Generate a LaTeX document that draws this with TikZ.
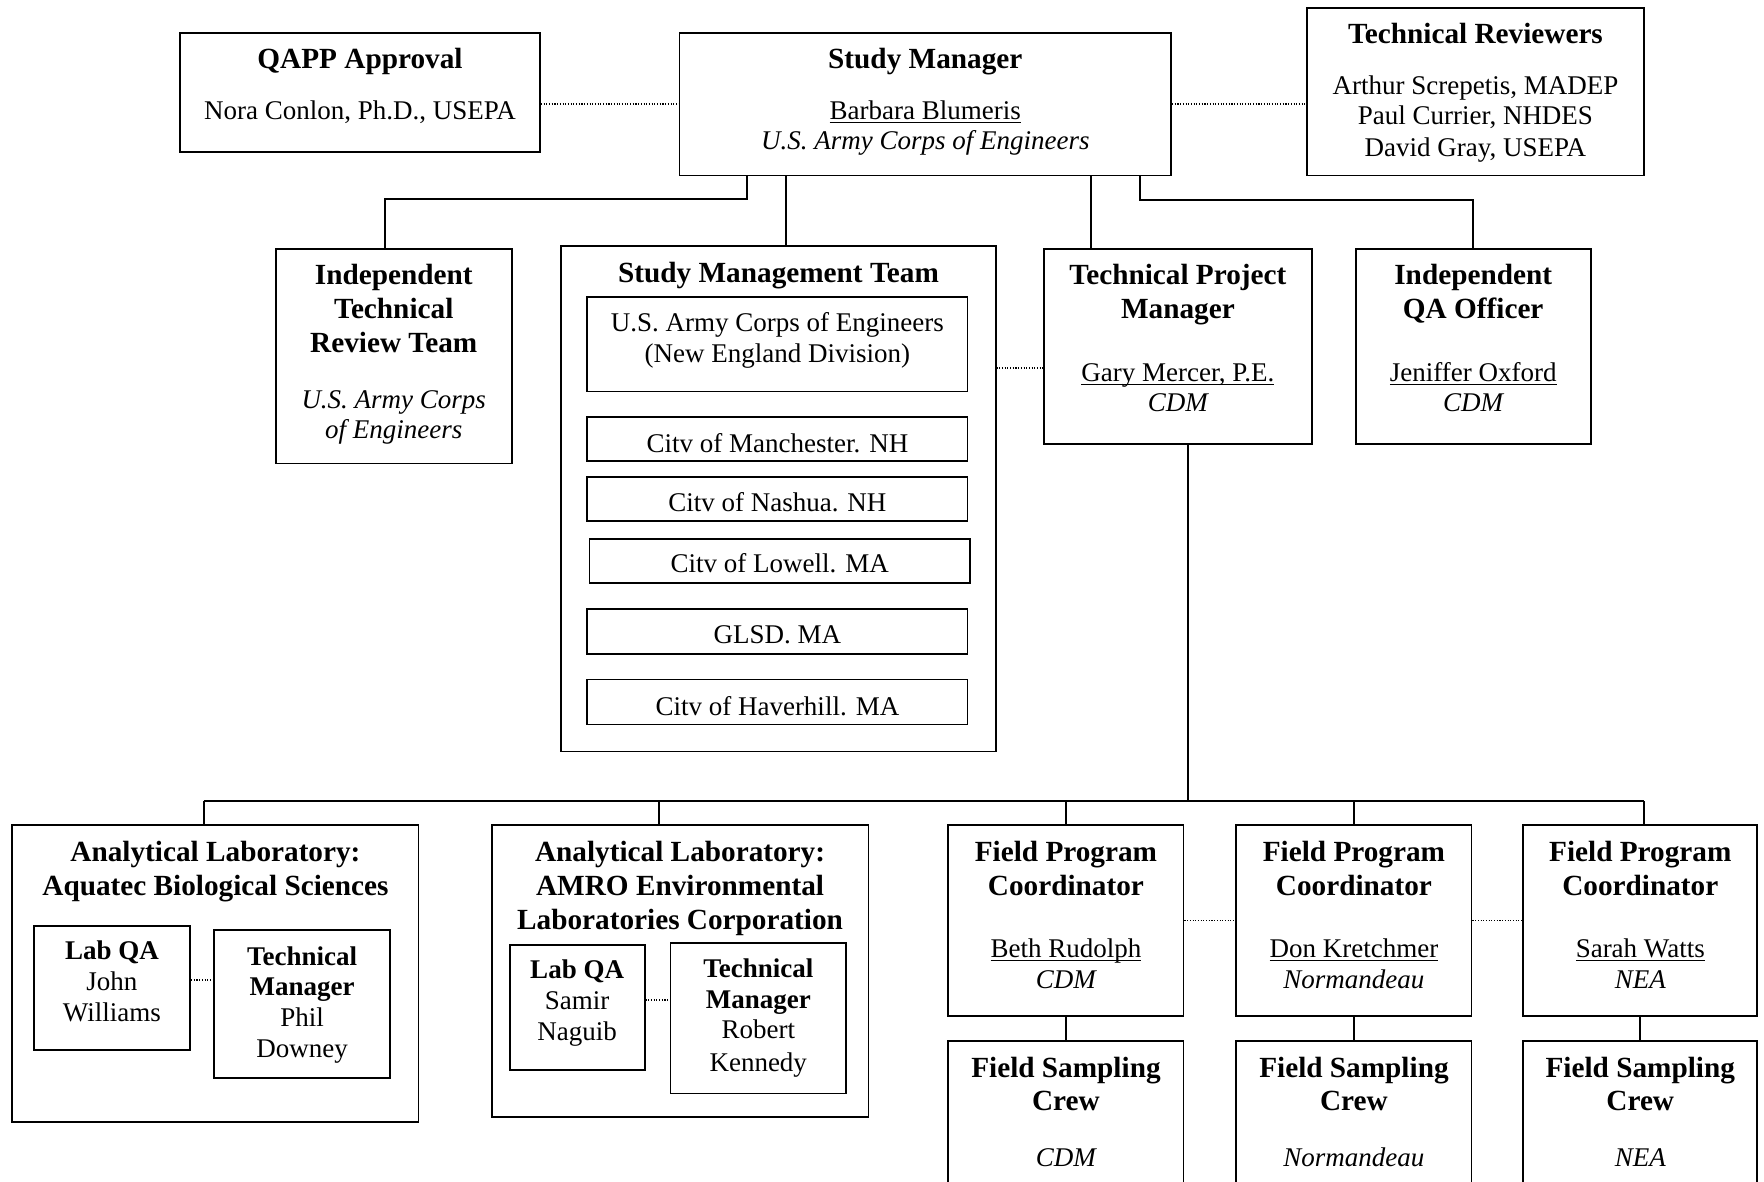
\documentclass[tikz,border=0pt]{standalone}
\usepackage{fontspec}
\setmainfont{Liberation Serif}
\usetikzlibrary{fit}
\newcommand\fN{\fontsize{12}{14}\selectfont}
\newcommand\fB{\fontsize{12}{14}\selectfont\bfseries}
\newcommand\fH{\fontsize{13}{15}\selectfont\bfseries}
\newcommand\fI{\fontsize{12}{14}\selectfont\itshape}
\newcommand\uln[1]{\underline{\smash{#1}}}
\newcommand\Tx[4]{\node[txt, font=#1] (#2) at (#3) {#4};}
\tikzset{
  box/.style={draw, line width=0.8pt, inner sep=0pt},
  conn/.style={draw, line width=0.8pt},
  dotln/.style={draw, line width=0.6pt, dash pattern=on 0.5pt off 0.7pt},
  txt/.style={anchor=base, inner sep=0pt}
}
\begin{document}
\begin{tikzpicture}[x=0.5pt, y=-0.5pt]
\useasboundingbox (0,0) rectangle (1568,1050);
\clip (0,0) rectangle (1568,1050);
% ---------- boxes ----------
\node[box, fit={(160,29)(480,135)}] (qapp) {};
\node[box, fit={(604,29)(1041,156)}] (study) {};
\node[box, fit={(1162,7)(1461,156)}] (trev) {};
\node[box, fit={(245,221)(455,412)}] (itrt) {};
\node[box, fit={(499,219)(885,668)}] (smt) {};
\node[box, fit={(522,264)(860,348)}] (usace) {};
\node[box, fit={(522,371)(860,410)}] (manch) {};
\node[box, fit={(522,424)(860,463)}] (nash) {};
\node[box, fit={(524,479)(862,518)}] (lowell) {};
\node[box, fit={(522,541)(860,581)}] (glsd) {};
\node[box, fit={(522,604)(860,644)}] (haver) {};
\node[box, fit={(928,221)(1166,395)}] (tpm) {};
\node[box, fit={(1205,221)(1414,395)}] (iqa) {};
\node[box, fit={(11,733)(372,997)}] (al1) {};
\node[box, fit={(30,823)(169,933)}] (lq1) {};
\node[box, fit={(190,827)(347,958)}] (tm1) {};
\node[box, fit={(437,733)(772,993)}] (al2) {};
\node[box, fit={(453,840)(573,951)}] (lq2) {};
\node[box, fit={(596,838)(752,972)}] (tm2) {};
\node[box, fit={(843,733)(1052,903)}] (fpc1) {};
\node[box, fit={(1099,733)(1308,903)}] (fpc2) {};
\node[box, fit={(1354,733)(1562,903)}] (fpc3) {};
\node[box, fit={(843,925)(1052,1080)}] (fsc1) {};
\node[box, fit={(1099,925)(1308,1080)}] (fsc2) {};
\node[box, fit={(1354,925)(1562,1080)}] (fsc3) {};
% ---------- texts ----------
\Tx{\fH}{qa1}{320,61}{QAPP Approval}
\Tx{\fN}{qa2}{320,106}{Nora Conlon, Ph.D., USEPA}
\Tx{\fH}{sm1}{822.5,61}{Study Manager}
\Tx{\fN}{sm2}{822.5,106}{\uln{Barbara Blumeris}}
\Tx{\fI}{sm3}{822.5,133}{U.S. Army Corps of Engineers}
\Tx{\fH}{tr1}{1311.5,39}{Technical Reviewers}
\Tx{\fN}{tr2}{1311.5,84}{Arthur Screpetis, MADEP}
\Tx{\fN}{tr3}{1311.5,111}{Paul Currier, NHDES}
\Tx{\fN}{tr4}{1311.5,139}{David Gray, USEPA}
\Tx{\fH}{it1}{350,253}{Independent}
\Tx{\fH}{it2}{350,283}{Technical}
\Tx{\fH}{it3}{350,313}{Review Team}
\Tx{\fI}{it4}{350,363}{U.S. Army Corps}
\Tx{\fI}{it5}{350,390}{of Engineers}
\Tx{\fH}{st1}{692,251}{Study Management Team}
\Tx{\fN}{us1}{691,295}{U.S. Army Corps of Engineers}
\Tx{\fN}{us2}{691,322}{(New England Division)}
\Tx{\fN}{ci1}{691,402}{Citv of Manchester. NH}
\Tx{\fN}{ci2}{691,455}{Citv of Nashua. NH}
\Tx{\fN}{ci3}{693,509}{Citv of Lowell. MA}
\Tx{\fN}{ci4}{691,572}{GLSD. MA}
\Tx{\fN}{ci5}{691,636}{Citv of Haverhill. MA}
\Tx{\fH}{tp1}{1047,253}{Technical Project}
\Tx{\fH}{tp2}{1047,283}{Manager}
\Tx{\fN}{tp3}{1047,339}{\uln{Gary Mercer, P.E.}}
\Tx{\fI}{tp4}{1047,366}{CDM}
\Tx{\fH}{iq1}{1309.5,253}{Independent}
\Tx{\fH}{iq2}{1309.5,283}{QA Officer}
\Tx{\fN}{iq3}{1309.5,339}{\uln{Jeniffer Oxford}}
\Tx{\fI}{iq4}{1309.5,366}{CDM}
\Tx{\fH}{a11}{191.5,766}{Analytical Laboratory:}
\Tx{\fH}{a12}{191.5,796}{Aquatec Biological Sciences}
\Tx{\fB}{l11}{99.5,853}{Lab QA}
\Tx{\fN}{l12}{99.5,880}{John}
\Tx{\fN}{l13}{99.5,908}{Williams}
\Tx{\fB}{m11}{268.5,858}{Technical}
\Tx{\fB}{m12}{268.5,885}{Manager}
\Tx{\fN}{m13}{268.5,912}{Phil}
\Tx{\fN}{m14}{268.5,940}{Downey}
\Tx{\fH}{a21}{604.5,766}{Analytical Laboratory:}
\Tx{\fH}{a22}{604.5,796}{AMRO Environmental}
\Tx{\fH}{a23}{604.5,826}{Laboratories Corporation}
\Tx{\fB}{l21}{513,870}{Lab QA}
\Tx{\fN}{l22}{513,897}{Samir}
\Tx{\fN}{l23}{513,925}{Naguib}
\Tx{\fB}{m21}{674,869}{Technical}
\Tx{\fB}{m22}{674,896}{Manager}
\Tx{\fN}{m23}{674,923}{Robert}
\Tx{\fN}{m24}{674,952}{Kennedy}
\Tx{\fH}{f11}{947.5,766}{Field Program}
\Tx{\fH}{f12}{947.5,796}{Coordinator}
\Tx{\fN}{f13}{947.5,851}{\uln{Beth Rudolph}}
\Tx{\fI}{f14}{947.5,879}{CDM}
\Tx{\fH}{f21}{1203.5,766}{Field Program}
\Tx{\fH}{f22}{1203.5,796}{Coordinator}
\Tx{\fN}{f23}{1203.5,851}{\uln{Don Kretchmer}}
\Tx{\fI}{f24}{1203.5,879}{Normandeau}
\Tx{\fH}{f31}{1458,766}{Field Program}
\Tx{\fH}{f32}{1458,796}{Coordinator}
\Tx{\fN}{f33}{1458,851}{\uln{Sarah Watts}}
\Tx{\fI}{f34}{1458,879}{NEA}
\Tx{\fH}{s11}{947.5,958}{Field Sampling}
\Tx{\fH}{s12}{947.5,987}{Crew}
\Tx{\fI}{s13}{947.5,1037}{CDM}
\Tx{\fH}{s21}{1203.5,958}{Field Sampling}
\Tx{\fH}{s22}{1203.5,987}{Crew}
\Tx{\fI}{s23}{1203.5,1037}{Normandeau}
\Tx{\fH}{s31}{1458,958}{Field Sampling}
\Tx{\fH}{s32}{1458,987}{Crew}
\Tx{\fI}{s33}{1458,1037}{NEA}
% ---------- helper coordinates ----------
\coordinate (c664) at (664,177);
\coordinate (x342) at (342,0);
\coordinate (x699) at (699,0);
\coordinate (x970) at (970,0);
\coordinate (c1013) at (1013,178);
\coordinate (busL) at (181,712);
\coordinate (busR) at (1461,712);
\coordinate (drop) at (1056,712);
\coordinate (x586) at (586,0);
\coordinate (y327) at (0,327);
\coordinate (y871) at (0,871);
\coordinate (y889) at (0,889);
% ---------- connectors ----------
\draw[conn] (study.south -| c664) -- (c664) -| (itrt.north -| x342);
\draw[conn] (study.south -| x699) -- (smt.north -| x699);
\draw[conn] (study.south -| x970) -- (tpm.north -| x970);
\draw[conn] (study.south -| c1013) -- (c1013) -| (iqa.north);
\draw[conn] (tpm.south -| drop) -- (drop);
\draw[conn] (busL) -- (busR);
\draw[conn] (busL) -- (al1.north -| busL);
\draw[conn] (busL -| x586) -- (al2.north -| x586);
\draw[conn] (fpc1.north |- busL) -- (fpc1.north);
\draw[conn] (fpc2.north |- busL) -- (fpc2.north);
\draw[conn] (busR) -- (fpc3.north -| busR);
\draw[conn] (fpc1.south) -- (fsc1.north);
\draw[conn] (fpc2.south) -- (fsc2.north);
\draw[conn] (fpc3.south) -- (fsc3.north);
% dotted links
\draw[dotln] (qapp.east |- study.west) -- (study.west);
\draw[dotln] (study.east) -- (trev.west |- study.east);
\draw[dotln] (smt.east |- y327) -- (tpm.west |- y327);
\draw[dotln] (lq1.east |- y871) -- (tm1.west |- y871);
\draw[dotln] (lq2.east |- y889) -- (tm2.west |- y889);
\draw[dotln] (fpc1.east) -- (fpc2.west);
\draw[dotln] (fpc2.east) -- (fpc3.west);
\end{tikzpicture}
\end{document}
